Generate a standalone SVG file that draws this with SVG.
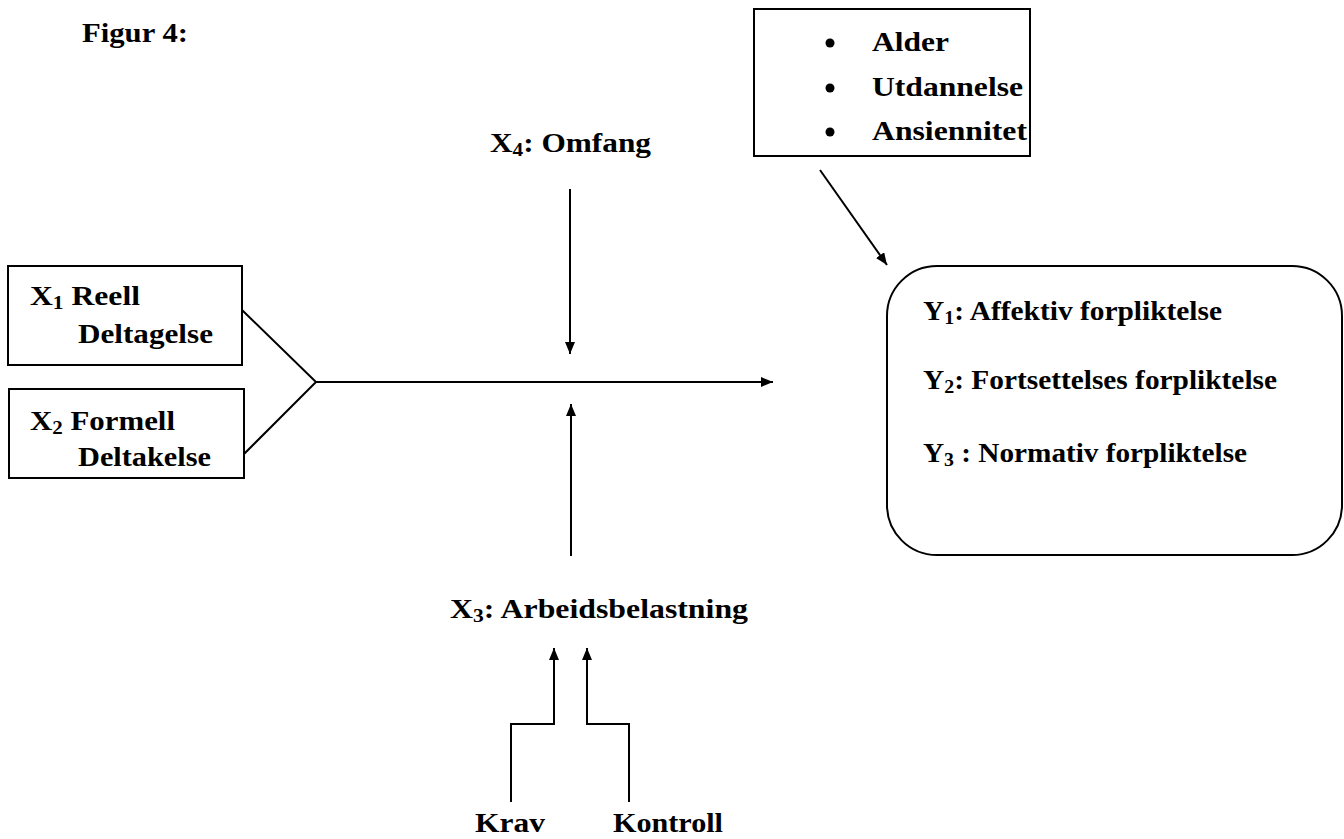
<svg xmlns="http://www.w3.org/2000/svg" width="1344" height="839" viewBox="0 0 1344 839">
<style>
text { font-family: "Liberation Serif", "Times New Roman", serif; font-weight: bold; font-size: 28px; fill: #000; }
.sub { font-size: 19px; }
.box { fill: #fff; stroke: #000; stroke-width: 2; }
.con { fill: none; stroke: #000; stroke-width: 2; }
</style>
<defs>
<marker id="arr" markerUnits="userSpaceOnUse" markerWidth="13" markerHeight="10" refX="12" refY="5" orient="auto">
<path d="M0,0 L12,5 L0,10 z" fill="#000"/>
</marker>
</defs>
<rect width="1344" height="839" fill="#fff"/>
<g id="title"><text x="82" y="42" textLength="106" lengthAdjust="spacingAndGlyphs">Figur 4:</text></g>

<g id="connectors">
<polyline class="con" points="242,310 316,382 244,454"/>
<line class="con" x1="316" y1="382" x2="773" y2="382" marker-end="url(#arr)"/>
<line class="con" x1="570" y1="189" x2="570" y2="354" marker-end="url(#arr)"/>
<line class="con" x1="571" y1="556" x2="571" y2="404" marker-end="url(#arr)"/>
<polyline class="con" points="511,802 511,724 554,724 554,648" marker-end="url(#arr)"/>
<polyline class="con" points="629,802 629,724 587,724 587,648" marker-end="url(#arr)"/>
<line class="con" x1="820" y1="170" x2="887" y2="265" marker-end="url(#arr)"/>
</g>

<g id="x1">
<rect class="box" x="8" y="266" width="234" height="99"/>
<text x="30" y="305" textLength="110" lengthAdjust="spacingAndGlyphs">X<tspan class="sub" dy="4">1</tspan><tspan dy="-4"> Reell</tspan></text>
<text x="78" y="343" textLength="135" lengthAdjust="spacingAndGlyphs">Deltagelse</text>
</g>

<g id="x2">
<rect class="box" x="9" y="389" width="235" height="89"/>
<text x="30" y="430" textLength="145" lengthAdjust="spacingAndGlyphs">X<tspan class="sub" dy="4">2</tspan><tspan dy="-4"> Formell</tspan></text>
<text x="78" y="466" textLength="133" lengthAdjust="spacingAndGlyphs">Deltakelse</text>
</g>

<g id="x4">
<text x="490" y="152" textLength="161" lengthAdjust="spacingAndGlyphs">X<tspan class="sub" dy="4">4</tspan><tspan dy="-4">: Omfang</tspan></text>
</g>

<g id="x3">
<text x="450" y="618" textLength="298" lengthAdjust="spacingAndGlyphs">X<tspan class="sub" dy="4">3</tspan><tspan dy="-4">: Arbeidsbelastning</tspan></text>
</g>

<g id="krav"><text x="475" y="832" textLength="70" lengthAdjust="spacingAndGlyphs">Krav</text></g>
<g id="kontroll"><text x="613" y="832" textLength="110" lengthAdjust="spacingAndGlyphs">Kontroll</text></g>

<g id="kontrollvariabler">
<rect class="box" x="754" y="9" width="276" height="147"/>
<circle cx="830" cy="43" r="4.5" fill="#000"/>
<circle cx="830" cy="88" r="4.5" fill="#000"/>
<circle cx="830" cy="132" r="4.5" fill="#000"/>
<text x="872" y="51" textLength="77" lengthAdjust="spacingAndGlyphs">Alder</text>
<text x="872" y="96" textLength="151" lengthAdjust="spacingAndGlyphs">Utdannelse</text>
<text x="872" y="140" textLength="155" lengthAdjust="spacingAndGlyphs">Ansiennitet</text>
</g>

<g id="y">
<rect class="box" x="887" y="266" width="455" height="289" rx="50" ry="50"/>
<text x="923" y="320" textLength="299" lengthAdjust="spacingAndGlyphs">Y<tspan class="sub" dy="4">1</tspan><tspan dy="-4">: Affektiv forpliktelse</tspan></text>
<text x="923" y="389" textLength="354" lengthAdjust="spacingAndGlyphs">Y<tspan class="sub" dy="4">2</tspan><tspan dy="-4">: Fortsettelses forpliktelse</tspan></text>
<text x="923" y="462" textLength="324" lengthAdjust="spacingAndGlyphs">Y<tspan class="sub" dy="4">3</tspan><tspan dy="-4"> : Normativ forpliktelse</tspan></text>
</g>
</svg>
